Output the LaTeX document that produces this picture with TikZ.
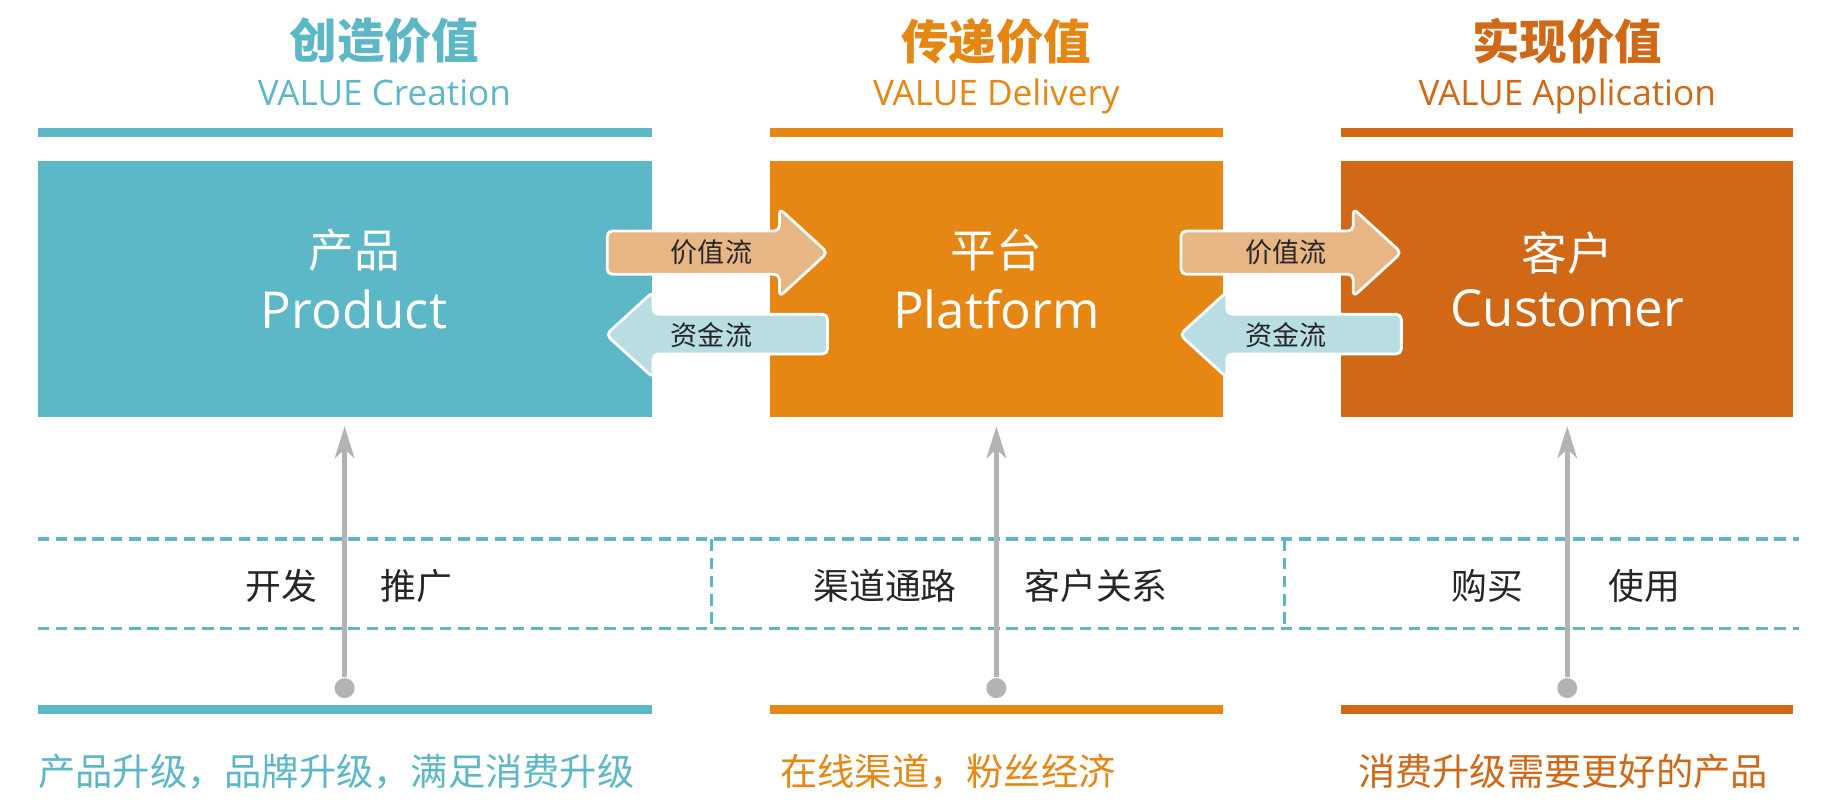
\documentclass[tikz,border=0pt]{standalone}
\usepackage{fontspec}
\setmainfont{Noto Sans CJK SC}
\newfontfamily\latinf{Open Sans}
\usetikzlibrary{arrows.meta, calc}

\definecolor{tealc}{HTML}{5CB7C6}
\definecolor{orangec}{HTML}{E68714}
\definecolor{rustc}{HTML}{D06816}
\definecolor{valfill}{HTML}{E8B584}
\definecolor{cashfill}{HTML}{B8DDE3}
\definecolor{stemgray}{HTML}{B3B3B3}

\def\px{0.011722cm}

\tikzset{
  head/.style={text=#1, font=\fontsize{13.5}{16}\selectfont\bfseries, inner sep=0pt},
  sub/.style={text=#1, font=\fontsize{10}{12}\selectfont\latinf, inner sep=0pt, anchor=base},
  stage/.style={fill=#1, draw=none, minimum height=219*\px, inner sep=0pt},
  flow/.style={fill=#1, draw=white, line width=0.8pt, rounded corners=1.5pt},
  flowtext/.style={text=black!85, font=\fontsize{7.7}{9}\selectfont, inner sep=0pt},
  dot/.style={circle, fill=stemgray, minimum size=17*\px, inner sep=0pt},
  stem/.style={draw=stemgray, line width=1.5pt, shorten >=7*\px,
    -{Stealth[width=5.5pt, length=9pt, inset=2.5pt]}},
  band/.style={draw=tealc, line width=1pt, dash pattern=on 3.3pt off 1.9pt},
  cell/.style={text=black!85, font=\fontsize{10.2}{12}\selectfont, inner sep=0pt},
  note/.style={text=#1, font=\fontsize{10.6}{12}\selectfont, inner sep=0pt, anchor=west}
}

\begin{document}
\begin{tikzpicture}[x=\px, y=-\px]

    \useasboundingbox (0,0) rectangle (1568,688);

    \def\valarrow{(518,197) -- (665,197) -- (665,178) -- (706,215.5) -- (665,253) -- (665,234) -- (518,234) -- cycle}
    \def\casharrow{(706,268) -- (557,268) -- (557,249) -- (517,285.5) -- (557,322) -- (557,302) -- (706,302) -- cycle}

    %headings
    \node[head=tealc] (hdA) at (328,35) {创造价值};
    \node[head=orangec] (hdB) at (850,35) {传递价值};
    \node[head=rustc] (hdC) at (1337,35) {实现价值};
    \node[sub=tealc] (subA) at (328,90) {VALUE Creation};
    \node[sub=orangec] (subB) at (850,90) {VALUE Delivery};
    \node[sub=rustc] (subC) at (1337,90) {VALUE Application};

    %top bars
    \fill[tealc] (32,109) rectangle (556,117);
    \fill[orangec] (657,109) rectangle (1043,117);
    \fill[rustc] (1144,109) rectangle (1530,117);

    %stage boxes
    \node[stage=tealc, minimum width=524*\px] (prod) at (294,246.5) {};
    \node[stage=orangec, minimum width=386*\px] (plat) at (850,246.5) {};
    \node[stage=rustc, minimum width=386*\px] (cust) at (1337,246.5) {};

    \node[text=white, align=center, inner sep=0pt] (prodtxt) at (302,238)
      {\fontsize{13}{16}\selectfont 产品\\[4pt]\fontsize{14.5}{17}\selectfont\latinf Product};
    \node[text=white, align=center, inner sep=0pt] (plattxt) at (850,238)
      {\fontsize{13}{16}\selectfont 平台\\[4pt]\fontsize{14.5}{17}\selectfont\latinf Platform};
    \node[text=white, align=center, inner sep=0pt] (custtxt) at (1337,238)
      {\fontsize{13}{16}\selectfont 客户\\[4pt]\fontsize{14.5}{17}\selectfont\latinf Customer};

    %value and money flows
    \filldraw[flow=valfill] \valarrow;
    \filldraw[flow=cashfill] \casharrow;
    \begin{scope}[xshift=489.5*\px]
      \filldraw[flow=valfill] \valarrow;
      \filldraw[flow=cashfill] \casharrow;
    \end{scope}
    \node[flowtext] (valA) at (607,215) {价值流};
    \node[flowtext] (cashA) at (607,286) {资金流};
    \node[flowtext] (valB) at (1097,215) {价值流};
    \node[flowtext] (cashB) at (1097,286) {资金流};

    %dashed band
    \draw[band] (32,460) -- (1535,460);
    \draw[band] (32,536) -- (1535,536);
    \draw[band] (607,460) -- (607,536);
    \draw[band] (1096,460) -- (1096,536);

    \node[cell] (dev) at (240,500) {开发};
    \node[cell] (promo) at (355,500) {推广};
    \node[cell] (chan) at (755,500) {渠道通路};
    \node[cell] (rel) at (935,500) {客户关系};
    \node[cell] (buy) at (1269,500) {购买};
    \node[cell] (use) at (1403,500) {使用};

    %stems
    \node[dot] (dotA) at (294,587) {};
    \node[dot] (dotB) at (850,587) {};
    \node[dot] (dotC) at (1337,587) {};
    \draw[stem] (dotA) -- (prod);
    \draw[stem] (dotB) -- (plat);
    \draw[stem] (dotC) -- (cust);

    %bottom bars
    \fill[tealc] (32,601) rectangle (556,609);
    \fill[orangec] (657,601) rectangle (1043,609);
    \fill[rustc] (1144,601) rectangle (1530,609);

    \node[note=tealc] (noteA) at (32,658) {产品升级，品牌升级，满足消费升级};
    \node[note=orangec] (noteB) at (665,658) {在线渠道，粉丝经济};
    \node[note=rustc] (noteC) at (1158,658) {消费升级需要更好的产品};

\end{tikzpicture}
\end{document}
